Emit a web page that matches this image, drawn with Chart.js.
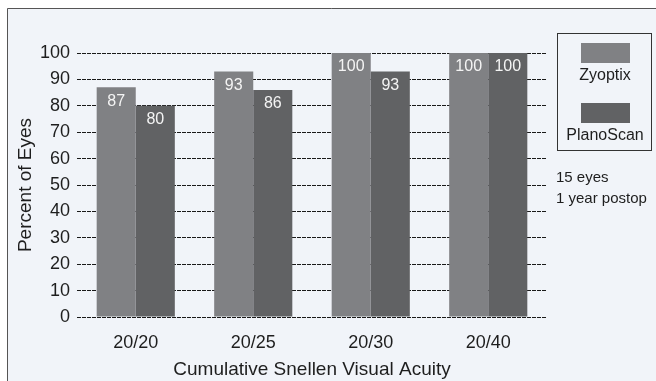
<!DOCTYPE html>
<html>
<head>
<meta charset="utf-8">
<script src="https://cdn.jsdelivr.net/npm/chart.js@4/dist/chart.umd.min.js"></script>
<style>
  html, body { margin: 0; padding: 0; background: #fff; }
  #wrap { width: 656px; height: 381px; }
</style>
</head>
<body>
<div id="wrap"><canvas id="acuityChart" width="656" height="381"></canvas></div>
<script>
const categories = ['20/20', '20/25', '20/30', '20/40'];
const seriesNames = ['Zyoptix', 'PlanoScan'];
const zyoptix = [87, 93, 100, 100];
const planoScan = [80, 86, 93, 100];
const yTicks = [0, 10, 20, 30, 40, 50, 60, 70, 80, 90, 100];
const notes = ['15 eyes', '1 year postop'];

const FONT = "'Liberation Sans', Arial, sans-serif";
const TEXT = '#1e1e1e';
const colors = ['#808184', '#616264'];

// panel background + border
const panelBg = {
    id: 'panelBg',
    beforeDraw(chart) {
        const { ctx, width, height } = chart;
        ctx.save();
        ctx.fillStyle = '#ffffff';
        ctx.fillRect(0, 0, width, height);
        ctx.fillStyle = '#f1f4f9';
        ctx.fillRect(7, 8, width - 7, height - 8);
        ctx.strokeStyle = '#555';
        ctx.lineWidth = 1;
        ctx.beginPath();
        ctx.moveTo(7.5, height);
        ctx.lineTo(7.5, 8.5);
        ctx.lineTo(width, 8.5);
        ctx.stroke();
        ctx.restore();
    }
};

// value labels inside bar tops
const barLabels = {
    id: 'barLabels',
    afterDatasetsDraw(chart) {
        const { ctx } = chart;
        ctx.save();
        ctx.font = '16px ' + FONT;
        ctx.fillStyle = '#f4f4f4';
        ctx.textAlign = 'center';
        ctx.textBaseline = 'top';
        chart.data.datasets.forEach((ds, i) => {
            chart.getDatasetMeta(i).data.forEach((bar, j) => {
                ctx.fillText(String(ds.data[j]), bar.x, bar.y + 6);
            });
        });
        ctx.restore();
    }
};

// legend box and notes on the right
const sideLegend = {
    id: 'sideLegend',
    afterDraw(chart) {
        const { ctx } = chart;
        ctx.save();
        ctx.strokeStyle = '#333';
        ctx.lineWidth = 1;
        ctx.strokeRect(557.5, 33.5, 94, 117);
        const cx = 605;
        const rows = [43, 103];
        ctx.font = '16px ' + FONT;
        ctx.fillStyle = TEXT;
        ctx.textAlign = 'center';
        ctx.textBaseline = 'middle';
        seriesNames.forEach((name, i) => {
            ctx.fillStyle = colors[i];
            ctx.fillRect(cx - 24, rows[i], 49, 20);
            ctx.fillStyle = TEXT;
            ctx.fillText(name, cx, rows[i] + 33);
        });
        ctx.font = '15px ' + FONT;
        ctx.textAlign = 'left';
        notes.forEach((t, i) => ctx.fillText(t, 556, 178 + i * 21));
        ctx.restore();
    }
};

new Chart(document.getElementById('acuityChart'), {
    type: 'bar',
    data: {
        labels: categories,
        datasets: [
            { label: seriesNames[0], data: zyoptix, backgroundColor: colors[0] },
            { label: seriesNames[1], data: planoScan, backgroundColor: colors[1] }
        ]
    },
    options: {
        responsive: false,
        animation: false,
        devicePixelRatio: 1,
        layout: { padding: { left: 0, top: 53, right: 109, bottom: 0 } },
        datasets: {
            bar: { categoryPercentage: 0.665, barPercentage: 1.0, borderWidth: 0 }
        },
        plugins: {
            legend: { display: false },
            tooltip: { enabled: false }
        },
        scales: {
            x: {
                afterFit: s => { s.height = 64; },
                grid: { display: false },
                border: { display: false },
                ticks: { font: { family: FONT, size: 18 }, color: TEXT, padding: 7 },
                title: {
                    display: true,
                    text: 'Cumulative Snellen Visual Acuity',
                    font: { family: FONT, size: 19 },
                    color: TEXT,
                    padding: { top: 0, bottom: 0 }
                }
            },
            y: {
                min: 0,
                max: 100,
                afterFit: s => { s.width = 77; },
                afterBuildTicks: s => { s.ticks = yTicks.map(v => ({ value: v })); },
                grid: {
                    color: '#1a1a1a',
                    lineWidth: 1,
                    drawTicks: false
                },
                border: { display: false, dash: [4, 1] },
                ticks: { font: { family: FONT, size: 18 }, color: TEXT, padding: 7 },
                title: {
                    display: true,
                    text: 'Percent of Eyes',
                    font: { family: FONT, size: 19 },
                    color: TEXT,
                    padding: { top: 14, bottom: 0 }
                }
            }
        }
    },
    plugins: [panelBg, barLabels, sideLegend]
});
</script>
</body>
</html>
